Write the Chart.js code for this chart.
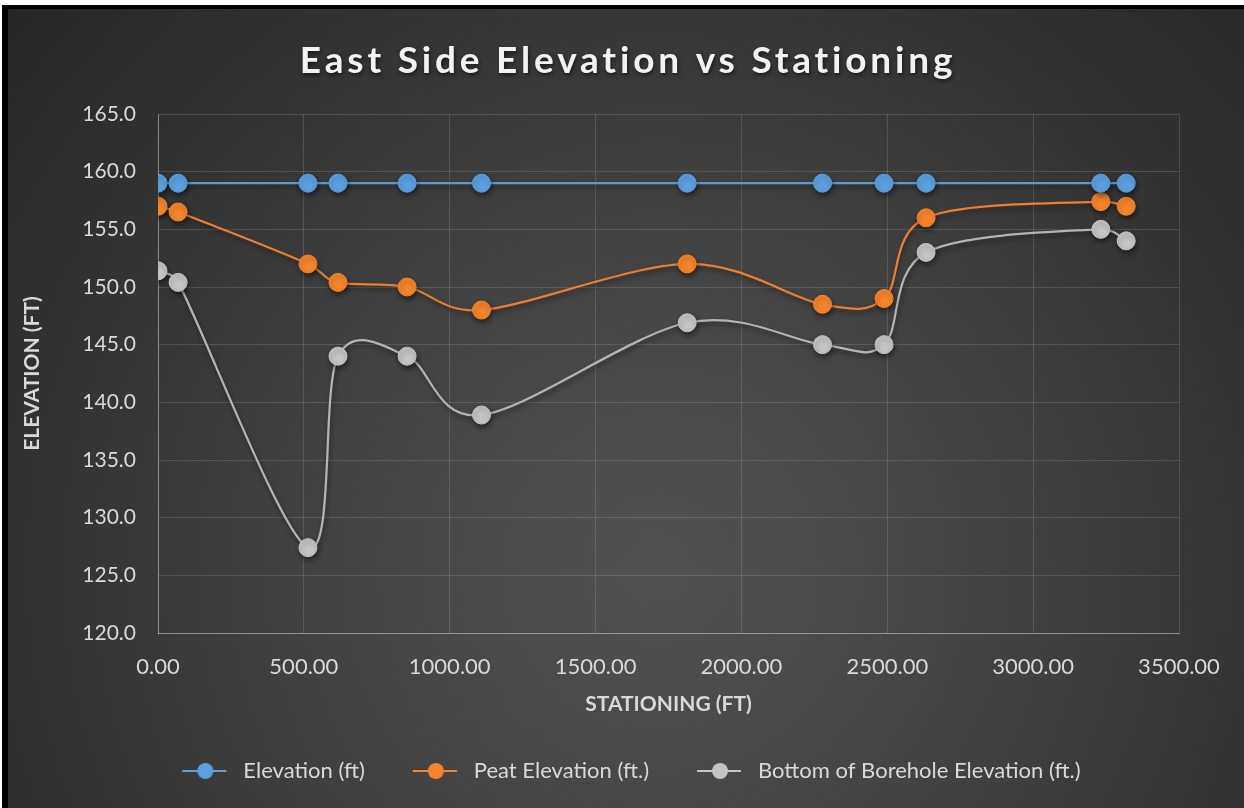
<!DOCTYPE html>
<html>
<head>
<meta charset="utf-8">
<script src="https://cdn.jsdelivr.net/npm/chart.js@4.4.1/dist/chart.umd.min.js"></script>
<style>
    html, body { margin: 0; padding: 0; background: #ffffff; overflow: hidden; width: 1244px; height: 808px; }
    #frame {
        position: absolute;
        left: 2px;
        top: 5px;
        width: 1300px;
        height: 900px;
        background: #000000;
    }
    #wrap {
        position: absolute;
        left: 6px;
        top: 4px;
        width: 1236px;
        height: 799px;
    }
    canvas { display: block; }
</style>
</head>
<body>
<div id="frame">
    <div id="wrap"><canvas id="elevChart" width="1236" height="799"></canvas></div>
</div>
<script>
// stationing (ft) of each borehole
const stationing = [0, 69, 514, 617, 854, 1109, 1814, 2278, 2489, 2633, 3232, 3319];
const elevation = [159.0, 159.0, 159.0, 159.0, 159.0, 159.0, 159.0, 159.0, 159.0, 159.0, 159.0, 159.0];
const peatElevation = [157.0, 156.5, 152.0, 150.4, 150.0, 148.0, 152.0, 148.5, 149.0, 156.0, 157.4, 157.0];
const boreholeBottom = [151.4, 150.4, 127.4, 144.0, 144.0, 138.9, 146.9, 145.0, 145.0, 153.0, 155.0, 154.0];

const seriesNames = ['Elevation (ft)', 'Peat Elevation (ft.)', 'Bottom of Borehole Elevation (ft.)'];
const chartTitle = 'East Side Elevation vs Stationing';
const xTitle = 'STATIONING (FT)';
const yTitle = 'ELEVATION (FT)';

const colors = {
    blue: '#5b9fdf',
    blueLine: '#5b9bd5',
    orange: '#f5842b',
    orangeLine: '#ed7d31',
    gray: '#c4c4c4',
    grayLine: '#b4b4b4',
    text: '#d9d9d9'
};

const FONT = 'Lato, "Open Sans", sans-serif';

// legend symbol: short line with a dot, a little blank space in front
function legendIcon(color) {
    const c = document.createElement('canvas');
    c.width = 58;
    c.height = 20;
    const g = c.getContext('2d');
    g.strokeStyle = color;
    g.lineWidth = 2;
    g.beginPath();
    g.moveTo(8, 10);
    g.lineTo(52, 10);
    g.stroke();
    g.fillStyle = color;
    g.beginPath();
    g.arc(31, 10, 8, 0, Math.PI * 2);
    g.fill();
    return c;
}

function toPoints(ys) {
    return stationing.map((x, i) => ({ x: x, y: ys[i] }));
}

function makeSeries(label, ys, line, fill) {
    return {
        label: label,
        data: toPoints(ys),
        showLine: true,
        borderColor: line,
        backgroundColor: fill,
        borderWidth: 2.25,
        tension: 0.4,
        pointRadius: 9,
        pointHoverRadius: 9,
        pointBackgroundColor: fill,
        pointBorderColor: fill,
        pointBorderWidth: 1,
        pointStyle: 'circle',
        legendIcon: legendIcon(fill)
    };
}

const backgroundPlugin = {
    id: 'darkBackground',
    beforeDraw(chart) {
        const ctx = chart.ctx;
        const w = chart.width, h = chart.height;
        ctx.save();
        const grad = ctx.createRadialGradient(650, 560, 0, 650, 560, 850);
        grad.addColorStop(0, '#525252');
        grad.addColorStop(0.45, '#404040');
        grad.addColorStop(1, '#262626');
        ctx.fillStyle = grad;
        ctx.fillRect(0, 0, w, h);
        ctx.restore();
    },
    afterDraw(chart) {
        const ctx = chart.ctx;
        ctx.save();
        ctx.font = 'bold 37px ' + FONT;
        ctx.letterSpacing = '3.8px';
        ctx.fillStyle = '#f2f2f2';
        ctx.textAlign = 'center';
        ctx.textBaseline = 'middle';
        ctx.shadowColor = 'rgba(0,0,0,0.6)';
        ctx.shadowBlur = 4;
        ctx.shadowOffsetX = 1;
        ctx.shadowOffsetY = 2;
        ctx.fillText(chartTitle, 620, 52);
        ctx.restore();
    }
};

// Excel style smoothing: Catmull-Rom tangents (1/6 of neighbour span),
// each handle kept within half of its own segment so short steps don't loop
function capHandle(dx, dy, segLen) {
    const len = Math.hypot(dx, dy);
    const limit = segLen * 0.5;
    if (len > limit && len > 0) {
        const k = limit / len;
        return [dx * k, dy * k];
    }
    return [dx, dy];
}

const excelSmoothing = {
    id: 'excelSmoothing',
    beforeDatasetDraw(chart, args) {
        const line = args.meta.dataset;
        if (!line || typeof line.updateControlPoints !== 'function') return;
        line.updateControlPoints(chart.chartArea, 'x');
        const pts = line.points || [];
        for (let i = 0; i < pts.length; i++) {
            const p = pts[i];
            const prev = pts[i - 1] || p;
            const next = pts[i + 1] || p;
            const dx = (next.x - prev.x) / 6;
            const dy = (next.y - prev.y) / 6;
            const back = capHandle(dx, dy, Math.hypot(p.x - prev.x, p.y - prev.y));
            const fwd = capHandle(dx, dy, Math.hypot(next.x - p.x, next.y - p.y));
            p.cp1x = p.x - back[0];
            p.cp1y = p.y - back[1];
            p.cp2x = p.x + fwd[0];
            p.cp2y = p.y + fwd[1];
        }
        line._path = undefined;
    }
};

const shadowPlugin = {
    id: 'markerShadow',
    beforeDatasetsDraw(chart) {
        const ctx = chart.ctx;
        ctx.save();
        ctx.shadowColor = 'rgba(0,0,0,0.45)';
        ctx.shadowBlur = 5;
        ctx.shadowOffsetX = 1;
        ctx.shadowOffsetY = 3;
    },
    afterDatasetsDraw(chart) {
        chart.ctx.restore();
    }
};

// legend sits a bit right of the plot centre in the original
const legendShift = {
    id: 'legendShift',
    afterLayout(chart) {
        if (chart.legend) {
            chart.legend.left += 34;
            chart.legend.right += 34;
        }
    }
};

const ctx = document.getElementById('elevChart');

new Chart(ctx, {
    type: 'scatter',
    data: {
        datasets: [
            makeSeries(seriesNames[0], elevation, colors.blueLine, colors.blue),
            makeSeries(seriesNames[1], peatElevation, colors.orangeLine, colors.orange),
            makeSeries(seriesNames[2], boreholeBottom, colors.grayLine, colors.gray)
        ]
    },
    options: {
        responsive: false,
        animation: false,
        layout: {
            padding: { top: 105, right: 65, bottom: 16, left: 0 }
        },
        scales: {
            x: {
                type: 'linear',
                min: 0,
                max: 3500,
                afterFit: function(scale) { scale.height = 87; },
                ticks: {
                    stepSize: 500,
                    color: colors.text,
                    padding: 21,
                    font: { family: FONT, size: 22 },
                    callback: function(value) { return value.toFixed(2); }
                },
                grid: {
                    color: 'rgba(255,255,255,0.13)',
                    drawTicks: false
                },
                border: { color: 'rgba(255,255,255,0.35)' },
                title: {
                    display: true,
                    text: xTitle,
                    color: colors.text,
                    font: { family: FONT, size: 21, weight: 'bold' },
                    padding: { top: 0, bottom: 3 }
                }
            },
            y: {
                min: 120,
                max: 165,
                afterFit: function(scale) { scale.width = 150; },
                ticks: {
                    stepSize: 5,
                    color: colors.text,
                    padding: 22,
                    font: { family: FONT, size: 21 },
                    callback: function(value) { return value.toFixed(1); }
                },
                grid: {
                    color: 'rgba(255,255,255,0.13)',
                    drawTicks: false
                },
                border: { color: 'rgba(255,255,255,0.35)' },
                title: {
                    display: true,
                    text: yTitle,
                    color: colors.text,
                    font: { family: FONT, size: 21, weight: 'bold' },
                    padding: { top: 12, bottom: 0 }
                }
            }
        },
        plugins: {
            title: { display: false },
            tooltip: { enabled: false },
            legend: {
                display: true,
                position: 'bottom',
                labels: {
                    usePointStyle: true,
                    pointStyleWidth: 58,
                    padding: 40,
                    color: colors.text,
                    font: { family: FONT, size: 22 },
                    generateLabels: function(chart) {
                        return chart.data.datasets.map((ds, i) => ({
                            text: ds.label,
                            pointStyle: ds.legendIcon,
                            fontColor: colors.text,
                            fillStyle: ds.backgroundColor,
                            strokeStyle: ds.borderColor,
                            lineWidth: 0,
                            hidden: false,
                            datasetIndex: i
                        }));
                    }
                }
            }
        }
    },
    plugins: [backgroundPlugin, excelSmoothing, shadowPlugin, legendShift]
});
</script>
</body>
</html>
